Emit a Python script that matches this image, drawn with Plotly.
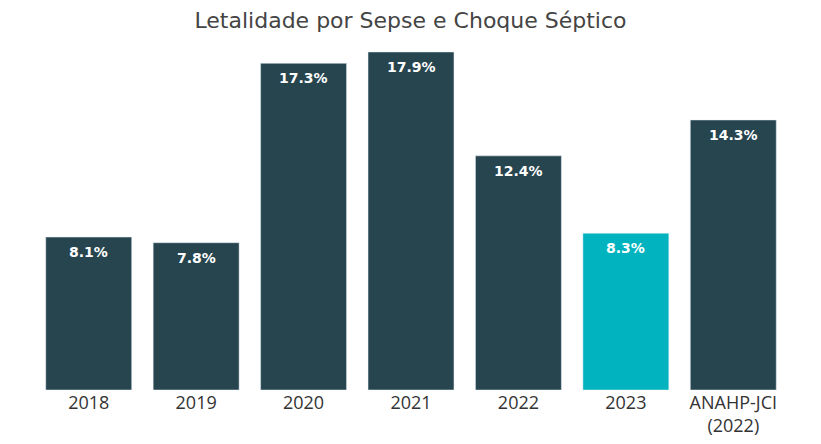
import plotly.graph_objects as go

categories = ["2018", "2019", "2020", "2021", "2022", "2023", "ANAHP-JCI<br>(2022)"]
lethality = [8.1, 7.8, 17.3, 17.9, 12.4, 8.3, 14.3]
labels = ["8.1%", "7.8%", "17.3%", "17.9%", "12.4%", "8.3%", "14.3%"]
bar_colors = ["#27454F", "#27454F", "#27454F", "#27454F", "#27454F", "#00B3BE", "#27454F"]

fig = go.Figure(
    go.Bar(
        x=categories,
        y=lethality,
        marker_color=bar_colors,
        hoverinfo="x+y",
    )
)

# value labels just under the top of each bar
# (x given as category index: year-like strings would be read as indices)
for i, (val, lab) in enumerate(zip(lethality, labels)):
    fig.add_annotation(
        x=i,
        y=val,
        text=lab,
        showarrow=False,
        yanchor="middle",
        yshift=-15,
        font=dict(family="DejaVu Sans", size=14, color="white", weight="bold"),
    )

fig.update_layout(
    title=dict(
        text="Letalidade por Sepse e Choque Séptico",
        x=0.5,
        xanchor="center",
        y=0.972,
        yanchor="middle",
        font=dict(family="DejaVu Sans", size=22, color="#444444"),
    ),
    width=805,
    height=428,
    margin=dict(l=27, r=26, t=27, b=46, autoexpand=False),
    plot_bgcolor="white",
    paper_bgcolor="white",
    bargap=0.2,
    showlegend=False,
    xaxis=dict(
        type="category",
        showgrid=False,
        showline=False,
        ticks="",
        automargin=False,
        tickfont=dict(family="Open Sans", size=18, color="#333333"),
    ),
    yaxis=dict(visible=False, range=[0, 18.8], automargin=False),
)

fig.write_html("out.html")
